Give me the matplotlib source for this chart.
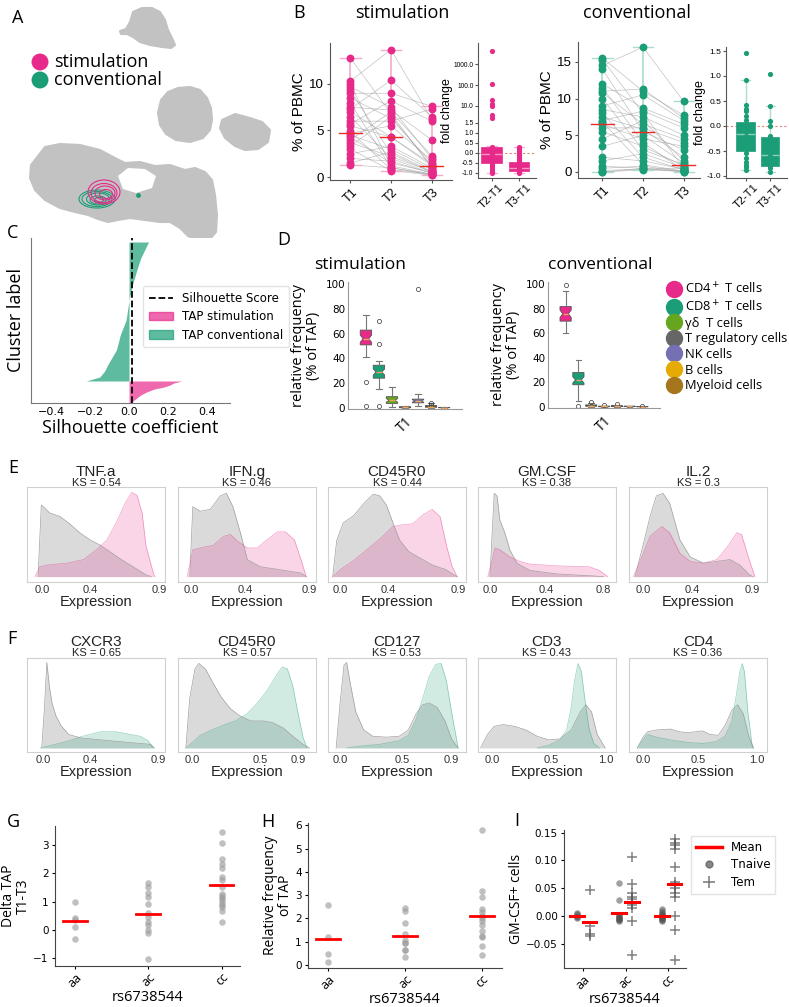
import numpy as np
import matplotlib
matplotlib.use('Agg')
import matplotlib.pyplot as plt
from matplotlib.patches import Polygon, Ellipse, Patch
from matplotlib.lines import Line2D

plt.rcParams['font.family'] = ['DejaVu Sans']
plt.rcParams['axes.linewidth'] = 0.8

PINK = '#E7298A'
TEAL = '#1B9E77'
DARK2 = ['#E7298A', '#1B9E77', '#66A61E', '#666666', '#7570B3', '#E6AB02', '#A6761D']
HUMAN = 'Open Sans'
ARIAL = 'Liberation Sans'

# ---------------- data ----------------
# A: umap islands, outline vertices in panel pixels
blob_top = [(133, 12), (142, 8), (152, 8), (160, 12), (165, 20), (168, 30), (172, 38), (175, 45),
            (171, 48), (162, 47), (150, 45), (140, 42), (133, 37), (127, 34), (121, 34), (120, 31),
            (126, 29), (130, 22)]
blob_mid = [(168, 92), (178, 88), (190, 87), (200, 90), (207, 98), (211, 108), (212, 120), (210, 130),
            (203, 138), (190, 142), (176, 140), (166, 134), (160, 125), (158, 113), (161, 100)]
blob_side = [(222, 120), (235, 114), (250, 118), (262, 122), (270, 130), (268, 142), (258, 149),
             (245, 150), (235, 146), (225, 138), (220, 128)]
blob_main = [(45, 147), (60, 144), (80, 145), (100, 150), (115, 158), (125, 163), (140, 162),
             (155, 166), (170, 165), (185, 170), (195, 168), (205, 172), (212, 180), (215, 195),
             (217, 215), (216, 232), (210, 239), (198, 240), (188, 236), (180, 228), (170, 222),
             (160, 222), (145, 220), (130, 218), (118, 220), (108, 222), (98, 219), (88, 215),
             (75, 212), (60, 208), (45, 200), (35, 190), (30, 178), (31, 165)]
blob_gap = [(118, 176), (128, 168), (145, 169), (156, 176), (152, 188), (136, 193), (123, 189)]
stim_contours = [(104, 192, 32, 24), (104, 193, 26, 19), (105, 193, 20, 14), (106, 194, 13, 9)]
conv_contours = [(97, 199, 36, 18), (97, 199, 30, 15), (98, 199, 23, 12), (98, 200, 16, 8), (99, 200, 9, 5)]

# B: % of PBMC per subject at T1, T2, T3
timepoints = ['T1', 'T2', 'T3']
stim_t1 = [12.8, 10.3, 10.0, 9.7, 9.3, 9.0, 8.5, 8.0, 7.5, 7.3, 7.0, 6.5, 6.0, 5.7, 4.9, 4.7,
           4.5, 4.3, 4.0, 3.7, 3.3, 3.0, 2.5, 2.0, 1.5, 1.3, 5.5]
stim_t2 = [6.8, 13.7, 1.2, 7.5, 2.5, 9.0, 6.3, 1.0, 7.2, 10.4, 4.3, 2.0, 6.0, 8.2, 0.8, 5.5,
           3.0, 1.5, 7.0, 2.2, 6.5, 0.7, 3.3, 1.7, 2.7, 1.0, 4.3]
stim_t3 = [1.0, 6.2, 0.3, 2.0, 0.5, 7.6, 1.5, 0.2, 4.0, 6.5, 1.2, 0.4, 7.3, 6.0, 0.3, 1.8,
           0.8, 0.5, 2.3, 0.6, 1.2, 0.2, 1.0, 0.4, 0.6, 0.3, 1.4]
stim_center = [4.7, 4.3, 1.2]
conv_t1 = [15.5, 15.3, 14.5, 14.0, 12.0, 11.5, 11.0, 10.8, 10.0, 9.0, 8.5, 8.0, 7.5, 7.0, 6.8,
           6.5, 6.0, 5.5, 4.5, 3.5, 2.0, 1.5, 0.8, 0.5, 0.2, 0.0, 0.0]
conv_t2 = [11.0, 8.0, 17.0, 5.5, 8.7, 4.0, 11.3, 6.5, 3.0, 10.5, 7.5, 2.0, 5.8, 8.3, 1.0, 4.5,
           6.0, 3.5, 7.0, 5.0, 1.5, 2.5, 0.5, 0.8, 0.4, 0.3, 0.5]
conv_t3 = [7.7, 0.5, 9.6, 3.0, 6.5, 0.2, 7.3, 4.5, 1.0, 7.0, 5.0, 0.3, 2.0, 6.0, 0.1, 3.5, 4.0,
           0.8, 1.5, 1.2, 0.4, 0.6, 0.0, 0.0, 0.2, 0.1, 0.5]
conv_center = [6.6, 5.4, 0.9]

# B: fold change
fc_labels = ['T2-T1', 'T3-T1']
stim_fc_t2 = [4400, 110, 20, 12, 10, 3.8, 2.6, 0.3, 0.25, 0.2, 0.1, 0.0, -0.1, -0.15, -0.2, -0.3,
              -0.35, -0.4, -0.45, -0.5, -0.6, -0.7, -0.8, -0.9, -0.95, -1.0]
stim_fc_t3 = [0.31, 0.25, 0.2, 0.1, 0.0, -0.1, -0.2, -0.3, -0.4, -0.5, -0.6, -0.7, -0.8, -0.9, -0.95, -1.0]
stim_fc_q1 = [-0.52, -0.88]
stim_fc_med = [-0.05, -0.73]
stim_fc_q3 = [0.31, -0.43]
stim_fc_lo = [-1.0, -1.0]
stim_fc_hi = [0.33, 0.31]
conv_fc_t2 = [1.46, 0.93, 0.42, 0.35, 0.3, 0.2, 0.12, 0.05, 0.0, -0.1, -0.2, -0.3, -0.45, -0.55,
              -0.65, -0.72, -0.78, -0.82, -0.88]
conv_fc_t3 = [1.05, 0.4, 0.1, 0.0, -0.2, -0.3, -0.45, -0.6, -0.7, -0.8, -0.85, -0.92]
conv_fc_q1 = [-0.5, -0.8]
conv_fc_med = [-0.15, -0.59]
conv_fc_q3 = [0.08, -0.22]
conv_fc_lo = [-0.88, -0.93]
conv_fc_hi = [0.93, 0.4]

# C: sorted silhouette values (sample rank, coefficient)
stim_rank = [0, 2, 5, 8, 11, 14, 16, 18, 20, 21, 22]
stim_sil = [0.005, 0.02, 0.04, 0.06, 0.09, 0.13, 0.18, 0.21, 0.23, 0.25, 0.27]
conv_rank = [22, 26, 32, 38, 53, 68, 83, 103, 120, 133, 145, 153, 161]
conv_sil = [-0.22, -0.15, -0.125, -0.11, -0.065, -0.045, -0.015, 0.0, 0.02, 0.04, 0.06, 0.08, 0.1]
sil_score = 0.013

# D: relative frequency of TAP per cell type (box stats)
cell_types = ['CD4$^+$ T cells', 'CD8$^+$ T cells', 'γδ  T cells', 'T regulatory cells',
              'NK cells', 'B cells', 'Myeloid cells']
d_stim_med = [56, 29, 6, 0.3, 5.5, 1.0, 0.2]
d_stim_q1 = [51, 24, 3.5, 0.0, 4.0, 0.5, 0.0]
d_stim_q3 = [63, 34.5, 9, 0.8, 7.0, 1.8, 0.3]
d_stim_lo = [41, 15.5, 0.5, 0.0, 1.5, 0.0, 0.0]
d_stim_hi = [75, 38, 17, 1.5, 11.5, 3.5, 0.5]
d_stim_ci = [3, 2.5, 1.5, 0.1, 1.0, 0.3, 0.05]
d_stim_fliers = [[21, 1.5], [52, 70, 1.5], [], [], [96], [3.8, 2.5], []]
d_conv_med = [76, 22, 1.0, 0.3, 0.5, 0.3, 0.1]
d_conv_q1 = [70, 18, 0.5, 0.0, 0.2, 0.1, 0.0]
d_conv_q3 = [82, 28, 1.5, 0.5, 0.9, 0.5, 0.2]
d_conv_lo = [60, 5, 0.0, 0.0, 0.0, 0.0, 0.0]
d_conv_hi = [95, 38, 3.0, 1.0, 1.5, 0.8, 0.4]
d_conv_ci = [3, 2.5, 0.3, 0.1, 0.2, 0.1, 0.05]
d_conv_fliers = [[99.5], [0.5], [4.0], [1.5], [2.0], [], [0.8]]

# E / F: density outlines (expression, height as fraction of panel)
e_markers = ['TNF.a', 'IFN.g', 'CD45R0', 'GM.CSF', 'IL.2']
e_ks = ['0.54', '0.46', '0.44', '0.38', '0.3']
e_rest_x = [[-0.03, -0.005, 0.06, 0.14, 0.22, 0.29, 0.37, 0.45, 0.52, 0.6, 0.7, 0.8, 0.84],
            [-0.01, 0.013, 0.07, 0.146, 0.223, 0.27, 0.32, 0.377, 0.43, 0.53, 0.71, 0.84, 0.88],
            [-0.06, -0.03, 0.02, 0.1, 0.18, 0.25, 0.3, 0.35, 0.4, 0.45, 0.52, 0.7, 0.8, 0.89],
            [0.0, 0.03, 0.05, 0.07, 0.105, 0.14, 0.19, 0.28, 0.47, 0.7, 0.8],
            [-0.066, 0.0, 0.058, 0.11, 0.165, 0.22, 0.305, 0.39, 0.5, 0.61, 0.72, 0.8, 0.88, 0.91]]
e_rest_h = [[0, 0.8, 0.71, 0.67, 0.58, 0.49, 0.41, 0.35, 0.28, 0.2, 0.11, 0.02, 0],
            [0, 0.78, 0.73, 0.75, 0.9, 0.93, 0.78, 0.49, 0.19, 0.11, 0.07, 0.04, 0],
            [0, 0.4, 0.6, 0.68, 0.82, 0.92, 0.9, 0.8, 0.6, 0.41, 0.28, 0.13, 0.08, 0],
            [0, 0.93, 0.9, 0.63, 0.49, 0.3, 0.15, 0.07, 0.03, 0.01, 0],
            [0, 0.35, 0.67, 0.9, 0.93, 0.82, 0.41, 0.22, 0.15, 0.17, 0.19, 0.13, 0.02, 0]]
e_tap_x = [[-0.055, -0.015, 0.04, 0.19, 0.32, 0.42, 0.5, 0.57, 0.64, 0.69, 0.73, 0.77, 0.8, 0.86, 0.87],
           [-0.03, 0.013, 0.07, 0.17, 0.25, 0.3, 0.36, 0.43, 0.505, 0.58, 0.66, 0.72, 0.79, 0.84, 0.88],
           [-0.06, 0.0, 0.1, 0.2, 0.3, 0.4, 0.48, 0.55, 0.63, 0.7, 0.76, 0.81, 0.85, 0.89],
           [-0.015, 0.01, 0.035, 0.07, 0.14, 0.21, 0.28, 0.47, 0.7, 0.77, 0.83],
           [-0.08, 0.0, 0.058, 0.155, 0.22, 0.305, 0.39, 0.5, 0.61, 0.69, 0.775, 0.815, 0.87, 0.925]]
e_tap_h = [[0, 0.11, 0.13, 0.15, 0.19, 0.3, 0.41, 0.6, 0.82, 0.94, 0.91, 0.71, 0.34, 0.02, 0],
           [0, 0.3, 0.32, 0.35, 0.45, 0.47, 0.39, 0.32, 0.32, 0.41, 0.5, 0.5, 0.41, 0.19, 0],
           [0, 0.08, 0.18, 0.3, 0.42, 0.56, 0.58, 0.59, 0.69, 0.75, 0.67, 0.34, 0.12, 0],
           [0, 0.15, 0.32, 0.3, 0.22, 0.17, 0.14, 0.12, 0.11, 0.07, 0],
           [0, 0.25, 0.45, 0.56, 0.49, 0.26, 0.17, 0.15, 0.19, 0.32, 0.49, 0.47, 0.22, 0]]
e_xlim = [(-0.115, 0.946), (-0.1, 0.955), (-0.096, 0.958), (-0.084, 0.888), (-0.116, 1.025)]
e_ticks = [[0, 0.375, 0.9], [0, 0.415, 0.9], [0, 0.365, 0.9], [0, 0.4, 0.8], [0, 0.405, 0.9]]
e_ticklabels = [['0.0', '0.4', '0.9'], ['0.0', '0.4', '0.9'], ['0.0', '0.4', '0.9'],
                ['0.0', '0.4', '0.8'], ['0.0', '0.4', '0.9']]

f_markers = ['CXCR3', 'CD45R0', 'CD127', 'CD3', 'CD4']
f_ks = ['0.65', '0.57', '0.53', '0.43', '0.36']
f_rest_x = [[-0.01, 0.01, 0.03, 0.05, 0.07, 0.1, 0.14, 0.2, 0.3, 0.45, 0.6, 0.84, 0.87],
            [-0.05, -0.02, 0.02, 0.05, 0.1, 0.16, 0.22, 0.29, 0.36, 0.45, 0.55, 0.62, 0.7, 0.78, 0.85, 0.9],
            [-0.03, 0.0, 0.03, 0.05, 0.08, 0.12, 0.18, 0.25, 0.35, 0.45, 0.52, 0.58, 0.63, 0.68, 0.74, 0.8, 0.85, 0.9],
            [-0.1, -0.04, 0.02, 0.1, 0.2, 0.3, 0.4, 0.5, 0.6, 0.7, 0.78, 0.83, 0.88, 0.93, 1.0],
            [-0.05, 0.0, 0.04, 0.12, 0.24, 0.32, 0.39, 0.46, 0.52, 0.59, 0.66, 0.72, 0.78, 0.83, 0.88, 0.93, 0.97]]
f_rest_h = [[0, 0.42, 0.95, 0.68, 0.5, 0.36, 0.25, 0.15, 0.11, 0.09, 0.07, 0.04, 0],
            [0, 0.55, 0.88, 0.94, 0.88, 0.72, 0.57, 0.44, 0.36, 0.3, 0.3, 0.28, 0.22, 0.12, 0.04, 0],
            [0, 0.5, 0.92, 0.95, 0.7, 0.4, 0.2, 0.13, 0.12, 0.13, 0.2, 0.38, 0.48, 0.5, 0.45, 0.3, 0.1, 0],
            [0, 0.15, 0.24, 0.26, 0.24, 0.2, 0.13, 0.09, 0.1, 0.2, 0.4, 0.48, 0.4, 0.15, 0],
            [0, 0.12, 0.18, 0.2, 0.21, 0.18, 0.17, 0.18, 0.19, 0.15, 0.14, 0.25, 0.42, 0.48, 0.38, 0.12, 0]]
f_tap_x = [[-0.02, 0.18, 0.31, 0.45, 0.57, 0.76, 0.82, 0.86],
           [-0.05, 0.0, 0.06, 0.15, 0.25, 0.33, 0.42, 0.5, 0.58, 0.65, 0.69, 0.73, 0.77, 0.81, 0.85, 0.88],
           [0.05, 0.15, 0.3, 0.45, 0.52, 0.58, 0.63, 0.68, 0.73, 0.77, 0.81, 0.85, 0.9],
           [0.4, 0.5, 0.6, 0.66, 0.7, 0.73, 0.76, 0.79, 0.82, 0.86, 0.9, 0.95],
           [-0.05, 0.0, 0.04, 0.12, 0.24, 0.4, 0.53, 0.64, 0.72, 0.78, 0.82, 0.85, 0.87, 0.89, 0.92, 0.96]]
f_tap_h = [[0, 0.07, 0.13, 0.18, 0.18, 0.13, 0.08, 0],
           [0, 0.06, 0.14, 0.2, 0.26, 0.3, 0.38, 0.5, 0.65, 0.82, 0.9, 0.88, 0.7, 0.4, 0.12, 0],
           [0, 0.02, 0.04, 0.08, 0.14, 0.32, 0.55, 0.8, 0.93, 0.94, 0.75, 0.4, 0],
           [0, 0.03, 0.09, 0.2, 0.45, 0.75, 0.94, 0.85, 0.55, 0.2, 0.05, 0],
           [0, 0.09, 0.15, 0.12, 0.09, 0.06, 0.05, 0.07, 0.13, 0.3, 0.6, 0.85, 0.94, 0.85, 0.4, 0]]
f_xlim = [(-0.125, 0.953), (-0.11, 0.95), (-0.092, 0.96), (-0.123, 1.096), (-0.123, 1.088)]
f_ticks = [[0, 0.37, 0.9], [0, 0.52, 0.81], [0, 0.477, 0.846], [0, 0.526, 1.009], [0, 0.482, 1.0]]
f_ticklabels = [['0.0', '0.4', '0.9'], ['0.0', '0.5', '0.9'], ['0.0', '0.5', '0.9'],
                ['0.0', '0.5', '1.0'], ['0.0', '0.5', '1.0']]

# G / H / I: genotype groups
genotypes = ['aa', 'ac', 'cc']
g_delta = [[0.98, 0.42, 0.37, 0.12, -0.32],
           [1.65, 1.52, 1.32, 1.15, 0.91, 0.6, 0.47, 0.3, 0.18, 0.0, -0.1, -1.02],
           [3.45, 3.08, 2.52, 2.32, 2.2, 1.87, 1.75, 1.5, 1.28, 1.2, 1.12, 1.05, 0.95, 0.87, 0.8, 0.68, 0.3]]
h_freq = [[2.57, 1.21, 0.46, 0.14],
          [2.43, 2.31, 1.79, 1.31, 1.07, 0.96, 0.96, 0.64, 0.64, 0.36],
          [5.8, 3.19, 2.9, 2.4, 2.29, 2.1, 2.0, 1.9, 1.71, 1.47, 1.26, 1.19, 0.81, 0.43]]
i_naive = [[0.005, 0.003, 0.0, -0.002, -0.004],
           [0.06, 0.028, 0.0, -0.002, -0.005, -0.008, -0.01, -0.004, 0.002, -0.006],
           [0.012, 0.008, 0.005, 0.003, 0.0, -0.002, -0.004, -0.006, -0.008, -0.01, 0.001, -0.003]]
i_tem = [[0.046, -0.018, -0.033, -0.037],
         [0.107, 0.058, 0.042, 0.035, 0.03, 0.025, 0.02, 0.015, -0.01, -0.07],
         [0.138, 0.132, 0.128, 0.12, 0.089, 0.062, 0.055, 0.05, 0.042, 0.035, 0.0, -0.026, -0.08]]

# ---------------- figure ----------------
W, H = 789, 1007
fig = plt.figure(figsize=(W / 100, H / 100), dpi=100)


def box(x0, y0, x1, y1):
    return fig.add_axes([x0 / W, 1 - y1 / H, (x1 - x0) / W, (y1 - y0) / H])


def ftext(x, y, s, **kw):
    kw.setdefault('va', 'center')
    kw.setdefault('ha', 'center')
    fig.text(x / W, 1 - y / H, s, **kw)


for letter, lx, ly in [('A', 18, 18), ('B', 299, 13), ('C', 13, 233), ('D', 284, 240),
                       ('E', 13, 468), ('F', 12, 639), ('G', 13, 822), ('H', 268, 822), ('I', 517, 821)]:
    ftext(lx, ly, letter, fontsize=13, family=HUMAN)

# ---- A ----
axA = box(0, 0, 290, 250)
axA.set_xlim(0, 290)
axA.set_ylim(250, 0)
axA.axis('off')
for blob in [blob_top, blob_mid, blob_side, blob_main]:
    axA.add_patch(Polygon(blob, closed=True, fc='#c2c2c2', ec='#c2c2c2', lw=1.5, joinstyle='round'))
axA.add_patch(Polygon(blob_gap, closed=True, fc='white', ec='none'))
for cx, cy, w, h in conv_contours:
    axA.add_patch(Ellipse((cx, cy), w, h, fill=False, ec=TEAL, lw=0.8))
for cx, cy, w, h in stim_contours:
    axA.add_patch(Ellipse((cx, cy), w, h, fill=False, ec=PINK, lw=0.8))
axA.scatter([138], [195], s=6, color=TEAL)
axA.scatter([40, 40], [62, 80], s=125, color=[PINK, TEAL])
axA.text(54, 62, 'stimulation', fontsize=13, family=HUMAN, va='center')
axA.text(54, 80, 'conventional', fontsize=13, family=HUMAN, va='center')

# ---- B ----
ftext(402, 13, 'stimulation', fontsize=13, family=HUMAN)
ftext(637, 13, 'conventional', fontsize=13, family=HUMAN)


def pbmc_panel(ax, t1, t2, t3, centers, color, light, ylim, yticks, xlim):
    vals = np.array([t1, t2, t3])
    xs = np.arange(3)
    for j in range(vals.shape[1]):
        ax.plot(xs, vals[:, j], color='#9a9a9a', lw=0.5, alpha=0.6, zorder=1)
    for i in range(3):
        lo, hi = vals[i].min(), vals[i].max()
        ax.plot([i, i], [lo, hi], color=light, lw=1.2, zorder=2)
        ax.plot([i - 0.25, i + 0.25], [lo, lo], color=light, lw=1.0, zorder=2)
        ax.plot([i - 0.25, i + 0.25], [hi, hi], color=light, lw=1.0, zorder=2)
        ax.scatter(np.full(vals.shape[1], i), vals[i], s=32, color=color, zorder=3, lw=0)
        ax.plot([i - 0.28, i + 0.28], [centers[i]] * 2, color='#ee2a24', lw=1.0, zorder=4)
    ax.set_xlim(*xlim)
    ax.set_ylim(*ylim)
    ax.set_xticks(xs)
    ax.set_xticklabels(timepoints, rotation=45, fontsize=9, family=ARIAL)
    ax.set_yticks(yticks)
    ax.set_yticklabels([str(v) for v in yticks], fontsize=9.5, family=ARIAL)
    ax.set_ylabel('% of PBMC', fontsize=11, family=ARIAL, labelpad=2)
    for s in ['top', 'right']:
        ax.spines[s].set_visible(False)
    for s in ['left', 'bottom']:
        ax.spines[s].set_color('#555555')
    ax.tick_params(length=2.5, pad=2, color='#555555')


def fc_panel(ax, pts1, pts2, q1, med, q3, lo, hi, color, xlim):
    stats = [dict(q1=a, med=b, q3=c, whislo=d, whishi=e, fliers=[])
             for a, b, c, d, e in zip(q1, med, q3, lo, hi)]
    ax.bxp(stats, positions=[0, 1], widths=0.75, patch_artist=True, showfliers=False,
           boxprops=dict(facecolor=color, edgecolor=color, lw=0.5),
           medianprops=dict(color='white', alpha=0.5, lw=1),
           whiskerprops=dict(color=color, alpha=0.35, lw=1),
           capprops=dict(color=color, alpha=0.35, lw=1))
    ax.scatter(np.zeros(len(pts1)), pts1, s=14, color=color, zorder=3, lw=0)
    ax.scatter(np.ones(len(pts2)), pts2, s=14, color=color, zorder=3, lw=0)
    ax.axhline(0, color='#d98a7a', lw=0.8, ls=(0, (2, 2)), zorder=1)
    ax.set_xlim(*xlim)
    ax.set_xticks([0, 1])
    ax.set_xticklabels(fc_labels, rotation=45, fontsize=8, family=ARIAL)
    ax.set_ylabel('fold change', fontsize=9, family=ARIAL, labelpad=0.5)
    for s in ['top', 'right']:
        ax.spines[s].set_visible(False)
    for s in ['left', 'bottom']:
        ax.spines[s].set_color('#555555')
    ax.tick_params(length=2, pad=1.2, color='#555555')


axB1 = box(330, 43, 452, 180)
pbmc_panel(axB1, stim_t1, stim_t2, stim_t3, stim_center, PINK, '#f5a9cc', (-0.32, 14.4), [0, 5, 10], (-0.5, 2.5))
axB3 = box(578, 42, 700, 178)
pbmc_panel(axB3, conv_t1, conv_t2, conv_t3, conv_center, TEAL, '#a8dccb', (-0.82, 17.7), [0, 5, 10, 15], (-0.6, 2.4))


def fwd(y):
    y = np.asarray(y, dtype=float)
    return np.where(y <= 1.5, y, 1.5 + 1.04 * np.log10(np.maximum(y, 1.5) / 1.5))


def inv(f):
    f = np.asarray(f, dtype=float)
    return np.where(f <= 1.5, f, 1.5 * 10 ** ((np.minimum(f, 12) - 1.5) / 1.04))


axB2 = box(478, 43, 536, 178)
axB2.set_yscale('function', functions=(fwd, inv))
fc_panel(axB2, stim_fc_t2, stim_fc_t3, stim_fc_q1, stim_fc_med, stim_fc_q3, stim_fc_lo, stim_fc_hi, PINK,
         (-0.5, 1.63))
axB2.set_ylim(-1.25, 10500)
fc_ticks = [-1.0, -0.5, 0.0, 0.5, 1.0, 1.5, 10.0, 100.0, 1000.0]
axB2.set_yticks(fc_ticks)
axB2.set_yticklabels(['%.1f' % v for v in fc_ticks], fontsize=4.8, family=ARIAL)
axB2.yaxis.set_minor_locator(matplotlib.ticker.NullLocator())

axB4 = box(726, 47, 787, 178)
fc_panel(axB4, conv_fc_t2, conv_fc_t3, conv_fc_q1, conv_fc_med, conv_fc_q3, conv_fc_lo, conv_fc_hi, TEAL,
         (-0.8, 1.68))
axB4.set_ylim(-1.04, 1.58)
fc_ticks2 = [-1.0, -0.5, 0.0, 0.5, 1.0, 1.5]
axB4.set_yticks(fc_ticks2)
axB4.set_yticklabels(['%.1f' % v for v in fc_ticks2], fontsize=6, family=ARIAL)

# ---- C ----
axC = box(31, 238, 230, 403)
axC.fill_betweenx(stim_rank, 0, stim_sil, color=PINK, alpha=0.7, lw=0)
axC.fill_betweenx(conv_rank, 0, conv_sil, color=TEAL, alpha=0.7, lw=0)
axC.axvline(sil_score, color='black', ls='--', lw=1.3)
axC.set_xlim(-0.503, 0.518)
axC.set_ylim(0, 165)
axC.set_yticks([])
axC.set_xticks([-0.4, -0.2, 0.0, 0.2, 0.4])
axC.set_xticklabels(['−0.4', '−0.2', '0.0', '0.2', '0.4'], fontsize=8)
axC.tick_params(length=0, pad=3)
for s in ['top', 'right']:
    axC.spines[s].set_visible(False)
for s in ['left', 'bottom']:
    axC.spines[s].set_color('#777777')
axC.set_xlabel('Silhouette coefficient', fontsize=13, family=HUMAN, labelpad=1)
axC.set_ylabel('Cluster label', fontsize=13, family=HUMAN, labelpad=4)
c_handles = [Line2D([], [], color='black', ls='--', lw=1.3),
             Patch(color=PINK, alpha=0.7), Patch(color=TEAL, alpha=0.7)]
axC.legend(c_handles, ['Silhouette Score', 'TAP stimulation', 'TAP conventional'],
           loc='upper left', bbox_to_anchor=(143 / W, 1 - 286 / H), bbox_transform=fig.transFigure,
           fontsize=8.5, frameon=True, edgecolor='#dddddd', borderpad=0.5, handlelength=2.0,
           labelspacing=0.45, borderaxespad=0)

# ---- D ----
ftext(360, 265, 'stimulation', fontsize=12.5, family=HUMAN)
ftext(600, 265, 'conventional', fontsize=12.5, family=HUMAN)


def freq_panel(ax, med, q1, q3, lo, hi, ci, fliers):
    stats = [dict(med=m, q1=a, q3=b, whislo=c, whishi=d, fliers=f, cilo=m - e, cihi=m + e)
             for m, a, b, c, d, e, f in zip(med, q1, q3, lo, hi, ci, fliers)]
    pos = [-0.4 + 0.8 / 7 * (i + 0.5) for i in range(7)]
    bp = ax.bxp(stats, positions=pos, widths=0.1, shownotches=True, patch_artist=True,
                boxprops=dict(edgecolor='#555555', lw=0.6),
                medianprops=dict(color='#f5a25d', lw=1),
                whiskerprops=dict(color='#777777', lw=0.8),
                capprops=dict(color='#777777', lw=0.8),
                flierprops=dict(marker='o', mfc='none', mec='#333333', ms=3, mew=0.5))
    for patch, c in zip(bp['boxes'], DARK2):
        patch.set_facecolor(c)
    ax.set_xlim(-0.5, 0.5)
    ax.set_ylim(-1, 102)
    ax.set_xticks([0])
    ax.set_xticklabels(['T1'], rotation=45, fontsize=10, family=HUMAN)
    ax.set_yticks([0, 20, 40, 60, 80, 100])
    ax.tick_params(axis='y', labelsize=7.5, length=0, pad=2)
    ax.tick_params(axis='x', length=0, pad=4)
    ax.set_ylabel('relative frequency\n(% of TAP)', fontsize=10.5, family=HUMAN, labelpad=3,
                  linespacing=1.0)
    for s in ['top', 'right']:
        ax.spines[s].set_visible(False)
    for s in ['left', 'bottom']:
        ax.spines[s].set_color('#999999')


axD1 = box(348, 282, 462, 409)
freq_panel(axD1, d_stim_med, d_stim_q1, d_stim_q3, d_stim_lo, d_stim_hi, d_stim_ci, d_stim_fliers)
axD2 = box(548, 282, 660, 408)
freq_panel(axD2, d_conv_med, d_conv_q1, d_conv_q3, d_conv_lo, d_conv_hi, d_conv_ci, d_conv_fliers)
d_handles = [Line2D([], [], ls='none', marker='o', ms=11.5, color=c) for c in DARK2]
axD2.legend(d_handles, cell_types, loc='upper left', bbox_to_anchor=(668 / W, 1 - 281 / H),
            bbox_transform=fig.transFigure, frameon=False, prop={'family': HUMAN, 'size': 9.3},
            handlelength=1.0, handletextpad=0.3, labelspacing=0.2, borderaxespad=0, borderpad=0)


# ---- E / F ----
def density_panel(ax, xr, hr, xt, ht, color, xlim, ticks, labels, ylim):
    ax.fill_between(xr, hr, color='#a8a8a8', alpha=0.42, lw=0)
    ax.plot(xr, hr, color='#a0a0a0', lw=0.5)
    ax.fill_between(xt, ht, color=color, alpha=0.2, lw=0)
    ax.plot(xt, ht, color=color, lw=0.5, alpha=0.45)
    ax.set_xlim(*xlim)
    ax.set_ylim(*ylim)
    ax.set_yticks([])
    ax.set_xticks(ticks)
    ax.set_xticklabels(labels, fontsize=8, family=ARIAL, color='#333333')
    ax.tick_params(length=0, pad=2)
    for s in ax.spines.values():
        s.set_color('#d0d0d0')
    ax.set_xlabel('Expression', fontsize=10.5, family=ARIAL, labelpad=0, color='#222222')


panel_x = [27, 178, 328, 478, 629]
for k in range(5):
    x0 = panel_x[k]
    ax = box(x0, 487, x0 + 138, 582)
    density_panel(ax, e_rest_x[k], e_rest_h[k], e_tap_x[k], e_tap_h[k], PINK,
                  e_xlim[k], e_ticks[k], e_ticklabels[k], (-0.06, 1.0))
    ftext(x0 + 69, 472, e_markers[k], fontsize=11, family=ARIAL, color='#222222')
    ftext(x0 + 69, 483, 'KS = ' + e_ks[k], fontsize=8, family=ARIAL, color='#222222')
    ax = box(x0, 658, x0 + 138, 752)
    density_panel(ax, f_rest_x[k], f_rest_h[k], f_tap_x[k], f_tap_h[k], TEAL,
                  f_xlim[k], f_ticks[k], f_ticklabels[k], (-0.045, 1.0))
    ftext(x0 + 69, 642, f_markers[k], fontsize=11, family=ARIAL, color='#222222')
    ftext(x0 + 69, 653, 'KS = ' + f_ks[k], fontsize=8, family=ARIAL, color='#222222')


# ---- G / H / I ----
def geno_axes(ax, ylabel):
    ax.set_xticks([0, 1, 2])
    ax.set_xticklabels(genotypes, rotation=45, fontsize=9, family=HUMAN)
    ax.tick_params(axis='y', labelsize=7.5, length=2.5, pad=2)
    ax.tick_params(axis='x', length=2.5, pad=1)
    for s in ['top', 'right']:
        ax.spines[s].set_visible(False)
    for s in ['left', 'bottom']:
        ax.spines[s].set_color('#444444')
    ax.set_xlabel('rs6738544', fontsize=10.5, family=HUMAN, labelpad=0)
    ax.set_ylabel(ylabel, fontsize=10, family=HUMAN, linespacing=1.0, labelpad=1.5)


def dots_with_mean(ax, groups, half):
    for i, g in enumerate(groups):
        ax.scatter(np.full(len(g), i), g, s=22, color='#9e9e9e', alpha=0.65, lw=0, zorder=2)
        m = np.mean(g)
        ax.plot([i - half, i + half], [m, m], color='red', lw=2, zorder=3)


axG = box(55, 826, 240, 966)
dots_with_mean(axG, g_delta, 0.16)
axG.set_xlim(-0.27, 2.25)
axG.set_ylim(-1.27, 3.67)
axG.set_yticks([-1, 0, 1, 2, 3])
geno_axes(axG, 'Delta TAP\nT1-T3')

axH = box(308, 823, 502, 968)
dots_with_mean(axH, h_freq, 0.16)
axH.set_xlim(-0.26, 2.26)
axH.set_ylim(-0.13, 6.1)
axH.set_yticks([0, 1, 2, 3, 4, 5, 6])
geno_axes(axH, 'Relative frequency\nof TAP')

axI = box(564, 830, 686, 968)
for i in range(3):
    xn = i - 0.15
    xt = i + 0.15
    axI.scatter(np.full(len(i_naive[i]), xn), i_naive[i], s=22, color='#555555', alpha=0.55, lw=0, zorder=2)
    axI.scatter(np.full(len(i_tem[i]), xt), i_tem[i], s=45, marker='+', color='#555555', alpha=0.75,
                lw=1.1, zorder=2)
    mn = np.mean(i_naive[i])
    mt = np.mean(i_tem[i])
    axI.plot([xn - 0.16, xn + 0.16], [mn, mn], color='red', lw=2.2, zorder=3)
    axI.plot([xt - 0.16, xt + 0.16], [mt, mt], color='red', lw=2.2, zorder=3)
axI.set_xlim(-0.45, 2.42)
axI.set_ylim(-0.094, 0.155)
axI.set_yticks([-0.05, 0.0, 0.05, 0.10, 0.15])
axI.set_yticklabels(['−0.05', '0.00', '0.05', '0.10', '0.15'])
geno_axes(axI, 'GM-CSF+ cells')
i_handles = [Line2D([], [], color='red', lw=2.5),
             Line2D([], [], ls='none', marker='o', ms=5, color='#555555', alpha=0.7),
             Line2D([], [], ls='none', marker='+', ms=8, mew=1.1, color='#555555', alpha=0.8)]
axI.legend(i_handles, ['Mean', 'Tnaive', 'Tem'], loc='upper left',
           bbox_to_anchor=(691 / W, 1 - 836 / H), bbox_transform=fig.transFigure,
           fontsize=8.5, frameon=True, edgecolor='#dddddd', fancybox=False, borderaxespad=0,
           handlelength=2.2, labelspacing=0.4)

fig.savefig('out.png', dpi=100)
